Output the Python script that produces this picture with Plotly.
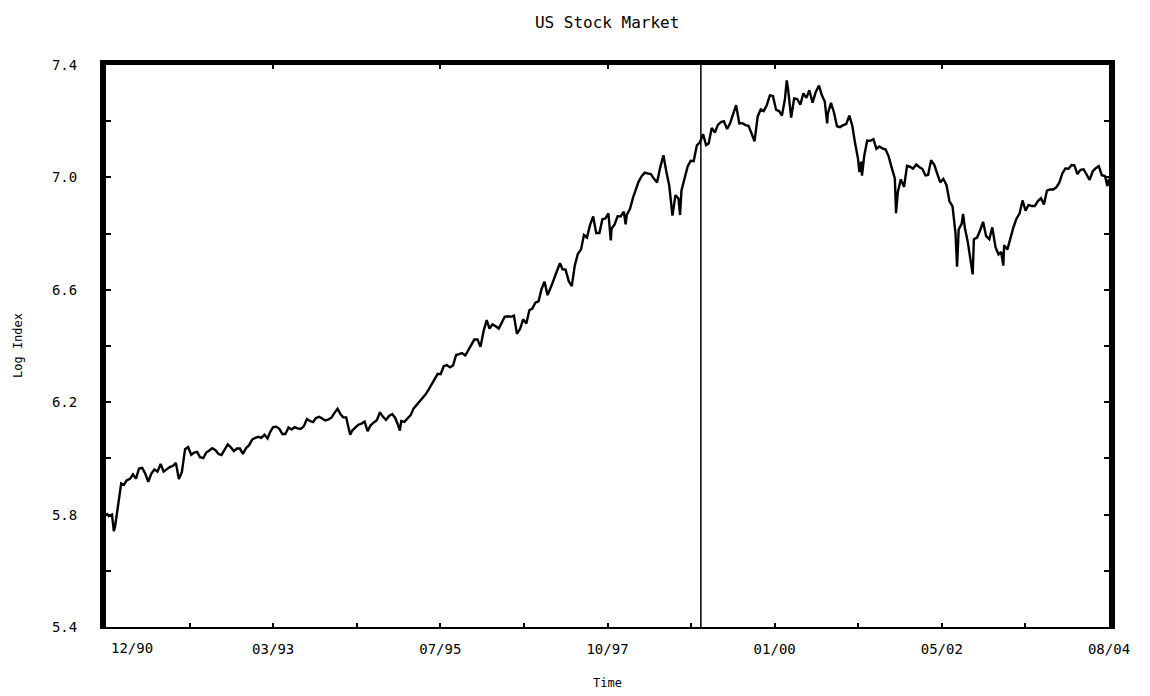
import pandas as pd
import plotly.graph_objects as go

# ---- data: log index (two readings per month: mid-month, month-end) ----
log_1990 = [5.795, 5.800]  # Dec only
log_1991 = [5.756, 5.840, 5.911, 5.906, 5.922, 5.927, 5.943, 5.928, 5.964, 5.966, 5.946, 5.917,
            5.945, 5.961, 5.953, 5.980, 5.953, 5.961, 5.969, 5.973, 5.984, 5.927, 5.951, 6.033]
log_1992 = [6.040, 6.013, 6.021, 6.023, 6.004, 6.001, 6.021, 6.028, 6.036, 6.029, 6.016, 6.012,
            6.031, 6.050, 6.040, 6.026, 6.035, 6.035, 6.016, 6.037, 6.047, 6.067, 6.073, 6.077]
log_1993 = [6.073, 6.084, 6.071, 6.094, 6.111, 6.113, 6.105, 6.087, 6.087, 6.110, 6.103, 6.111,
            6.107, 6.105, 6.114, 6.140, 6.133, 6.129, 6.144, 6.148, 6.142, 6.135, 6.138, 6.145]
log_1994 = [6.161, 6.177, 6.157, 6.146, 6.146, 6.100, 6.100, 6.111, 6.120, 6.124, 6.131, 6.097,
            6.118, 6.128, 6.136, 6.164, 6.148, 6.137, 6.151, 6.158, 6.144, 6.117, 6.133, 6.130]
log_1995 = [6.142, 6.154, 6.178, 6.189, 6.199, 6.216, 6.227, 6.244, 6.263, 6.279, 6.301, 6.300,
            6.328, 6.332, 6.324, 6.331, 6.368, 6.371, 6.375, 6.366, 6.385, 6.406, 6.423, 6.423]
log_1996 = [6.397, 6.455, 6.492, 6.462, 6.477, 6.470, 6.462, 6.483, 6.504, 6.506, 6.504, 6.508,
            6.443, 6.461, 6.495, 6.480, 6.527, 6.533, 6.554, 6.559, 6.603, 6.629, 6.581, 6.608]
log_1997 = [6.640, 6.667, 6.695, 6.673, 6.672, 6.630, 6.613, 6.686, 6.727, 6.743, 6.795, 6.786,
            6.830, 6.861, 6.802, 6.802, 6.851, 6.854, 6.872, 6.818, 6.833, 6.862, 6.861, 6.878]
log_1998 = [6.867, 6.888, 6.928, 6.956, 6.985, 7.005, 7.017, 7.014, 7.012, 6.995, 6.982, 7.033,
            7.073, 7.022, 6.971, 6.864, 6.937, 6.925, 6.954, 7.002, 7.039, 7.059, 7.058, 7.114]
log_1999 = [7.125, 7.154, 7.115, 7.121, 7.176, 7.160, 7.187, 7.197, 7.200, 7.172, 7.193, 7.225,
            7.257, 7.192, 7.193, 7.186, 7.184, 7.157, 7.128, 7.217, 7.242, 7.236, 7.257, 7.292]
log_2000 = [7.290, 7.240, 7.236, 7.220, 7.279, 7.312, 7.213, 7.281, 7.279, 7.259, 7.299, 7.283,
            7.310, 7.266, 7.302, 7.325, 7.293, 7.270, 7.226, 7.265, 7.231, 7.182, 7.179, 7.186]
log_2001 = [7.190, 7.220, 7.182, 7.123, 7.067, 7.056, 7.076, 7.131, 7.130, 7.136, 7.102, 7.110,
            7.103, 7.099, 7.075, 7.033, 6.996, 6.948, 6.993, 6.966, 7.041, 7.038, 7.031, 7.046]
log_2002 = [7.037, 7.030, 7.007, 7.009, 7.061, 7.045, 7.013, 6.982, 6.995, 6.973, 6.915, 6.898,
            6.802, 6.815, 6.835, 6.820, 6.768, 6.704, 6.780, 6.786, 6.812, 6.842, 6.791, 6.780]
log_2003 = [6.822, 6.752, 6.726, 6.735, 6.759, 6.743, 6.786, 6.821, 6.852, 6.871, 6.918, 6.882,
            6.902, 6.898, 6.898, 6.916, 6.926, 6.904, 6.953, 6.957, 6.957, 6.964, 6.980, 7.014]
log_2004 = [7.032, 7.031, 7.044, 7.043, 7.012, 7.027, 7.029, 7.010, 6.991, 7.022, 7.033, 7.040,
            7.008, 7.005]  # Jan-Jul

# extra readings at visible peaks / troughs
extra_dates = ["1990-12-03", "1991-01-09", "1994-04-04", "1994-12-08", "1997-10-27",
               "1998-01-09", "1998-07-17", "1998-10-08", "2000-03-24", "2000-09-01",
               "2000-10-12", "2001-03-22", "2001-04-04", "2001-09-21", "2002-07-23",
               "2002-08-22", "2002-10-09", "2003-03-11", "2004-08-12", "2004-08-20"]
extra_values = [5.805, 5.741, 6.084, 6.099, 6.776,
                6.833, 7.079, 6.866, 7.345, 7.327,
                7.192, 7.019, 7.006, 6.873, 6.682,
                6.870, 6.655, 6.686, 6.969, 6.995]

x_tick_labels = ["12/90", "03/93", "07/95", "10/97", "01/00", "05/02", "08/04"]
y_tick_values = [5.4, 5.6, 5.8, 6.0, 6.2, 6.4, 6.6, 6.8, 7.0, 7.2, 7.4]
y_tick_labels = ["5.4", "", "5.8", "", "6.2", "", "6.6", "", "7.0", "", "7.4"]
break_date = "1999-01-20"
x_start = pd.Timestamp("1990-12-01")
x_end = pd.Timestamp("2004-08-20")

# ---- assemble the series ----
grid_vals = (log_1990 + log_1991 + log_1992 + log_1993 + log_1994 + log_1995 + log_1996 +
             log_1997 + log_1998 + log_1999 + log_2000 + log_2001 + log_2002 + log_2003 + log_2004)
months = pd.period_range("1990-12", "2004-07", freq="M")
grid_dates = []
for p in months:
    grid_dates.append(pd.Timestamp(p.year, p.month, 15))
    grid_dates.append(p.end_time.normalize())
assert len(grid_dates) == len(grid_vals)

df = pd.DataFrame({"date": grid_dates + [pd.Timestamp(d) for d in extra_dates],
                   "val": grid_vals + extra_values}).sort_values("date")

FONT = "DejaVu Sans Mono"
TICKFONT = dict(family=FONT, size=14, color="black")

fig = go.Figure()
fig.add_trace(go.Scatter(x=df["date"], y=df["val"], mode="lines",
                         line=dict(color="black", width=2.4), showlegend=False,
                         hoverinfo="x+y"))
# helper trace so the top axis (ticks only) is drawn
fig.add_trace(go.Scatter(x=[x_start, x_end], y=[None, None], xaxis="x2", mode="lines",
                         showlegend=False, hoverinfo="skip"))

tick_pos = [x_start + (x_end - x_start) * i / 12 for i in range(13)]
tick_txt = []
for i in range(13):
    tick_txt.append(x_tick_labels[i // 2] if (i % 2 == 0 and i > 0) else "")

fig.add_shape(type="line", xref="x", yref="paper", x0=break_date, x1=break_date, y0=0, y1=1,
              line=dict(color="black", width=1.5))

# first x label sits to the right of the axis start
fig.add_annotation(x=x_start, y=0, xref="x", yref="paper", text=x_tick_labels[0],
                   xanchor="left", yanchor="middle", xshift=3, yshift=-21, showarrow=False,
                   font=TICKFONT)
# axis titles
fig.add_annotation(x=0, y=0.5, xref="paper", yref="paper", text="Log Index", textangle=-90,
                   xanchor="center", yanchor="middle", xshift=-88, showarrow=False,
                   font=dict(family=FONT, size=12, color="black"))
fig.add_annotation(x=0.5, y=0, xref="paper", yref="paper", text="Time",
                   xanchor="center", yanchor="middle", yshift=-56, showarrow=False,
                   font=dict(family=FONT, size=12, color="black"))

fig.update_layout(
    width=1150, height=696,
    margin=dict(l=98, r=49, t=57, b=77, autoexpand=False),
    paper_bgcolor="white", plot_bgcolor="white",
    title=dict(text="US Stock Market", x=0.521, xanchor="center", y=0.980, yanchor="middle",
               font=dict(family=FONT, size=16, color="black")),
    xaxis=dict(range=[x_start, x_end], tickmode="array", tickvals=tick_pos, ticktext=tick_txt,
               ticks="inside", ticklen=4, tickwidth=2, tickcolor="black",
               showline=True, linewidth=2, linecolor="black", showgrid=False, zeroline=False,
               ticklabelstandoff=8, automargin=False, tickfont=TICKFONT),
    xaxis2=dict(range=[x_start, x_end], overlaying="x", side="top", tickmode="array",
                tickvals=tick_pos[2:12:2], showticklabels=False, ticks="inside", ticklen=4,
                tickwidth=2, tickcolor="black", showline=True, linewidth=5, linecolor="black",
                showgrid=False, zeroline=False, automargin=False),
    yaxis=dict(range=[5.4, 7.4], tickmode="array", tickvals=y_tick_values, ticktext=y_tick_labels,
               ticks="inside", ticklen=5, tickwidth=2, tickcolor="black",
               showline=True, linewidth=6, linecolor="black", mirror="ticks",
               showgrid=False, zeroline=False, ticklabelstandoff=20, automargin=False,
               tickfont=TICKFONT),
)

fig.write_html("out.html")
